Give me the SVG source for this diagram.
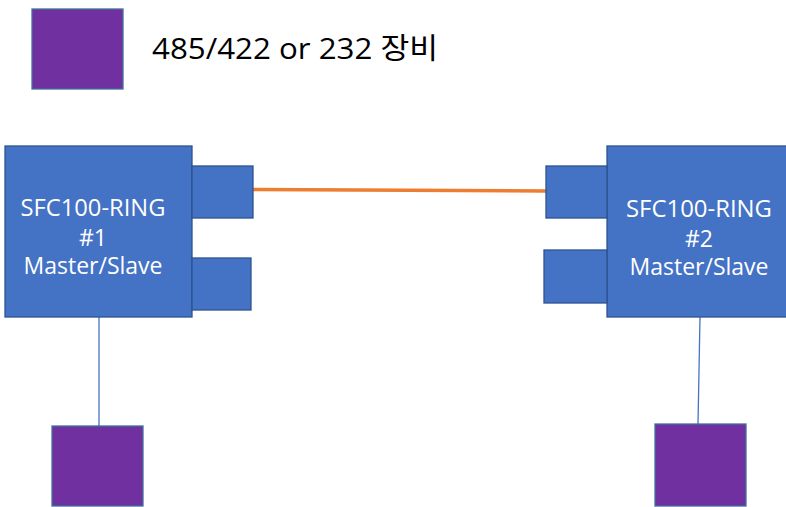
<svg xmlns="http://www.w3.org/2000/svg" width="786" height="507" viewBox="0 0 786 507">
<style>
.box{fill:#4472C4;stroke:#2F528F;stroke-width:1.3}
.dev{fill:#7030A0;stroke:#41719C;stroke-width:1.3}
.lbl{font-family:"Open Sans","Noto Sans CJK KR",sans-serif;font-size:23px;fill:#FFFFFF;text-anchor:middle}
.leg{font-family:"Open Sans","Noto Sans CJK KR",sans-serif;font-size:29px;fill:#000000}
.wire{stroke:#4472C4;stroke-width:1.3;fill:none}
.fiber{stroke:#ED7D31;stroke-width:3.5;fill:none}
</style>
<rect width="786" height="507" fill="#FFFFFF"/>
<g id="legend">
<rect class="dev" x="32" y="9" width="91" height="80"/>
<text class="leg" x="152" y="59" textLength="286" lengthAdjust="spacingAndGlyphs">485/422 or 232 장비</text>
</g>
<g id="connectors">
<line class="fiber" x1="253" y1="189.5" x2="546" y2="191"/>
<line class="wire" x1="99" y1="317" x2="99" y2="426"/>
<line class="wire" x1="700" y1="317" x2="698" y2="424"/>
</g>
<g id="node1">
<rect class="box" x="5" y="146" width="187" height="171"/>
<rect class="box" x="192" y="166" width="61" height="52"/>
<rect class="box" x="192" y="258" width="59" height="52"/>
<text class="lbl" x="93" y="216" textLength="145" lengthAdjust="spacingAndGlyphs">SFC100-RING</text>
<text class="lbl" x="93" y="246">#1</text>
<text class="lbl" x="93" y="274">Master/Slave</text>
</g>
<g id="node2">
<rect class="box" x="607" y="146" width="182" height="171"/>
<rect class="box" x="546" y="166" width="61" height="52"/>
<rect class="box" x="544" y="250" width="63" height="53"/>
<text class="lbl" x="699" y="217" textLength="146" lengthAdjust="spacingAndGlyphs">SFC100-RING</text>
<text class="lbl" x="699" y="247">#2</text>
<text class="lbl" x="699" y="275">Master/Slave</text>
</g>
<g id="device1">
<rect class="dev" x="52" y="426" width="91" height="80"/>
</g>
<g id="device2">
<rect class="dev" x="655" y="424" width="91" height="82"/>
</g>
</svg>
